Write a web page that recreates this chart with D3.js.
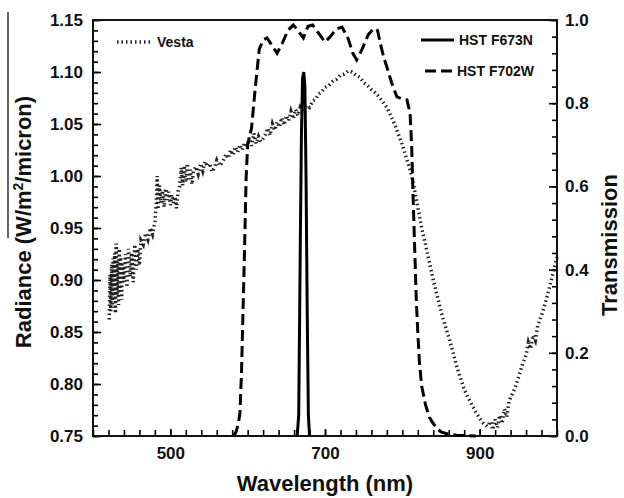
<!DOCTYPE html>
<html>
<head>
<meta charset="utf-8">
<script src="https://cdn.jsdelivr.net/npm/d3@7"></script>
<style>
  body { margin: 0; background: #fff; }
  svg text { font-family: "Liberation Sans", Arial, sans-serif; font-weight: bold; fill: #111; }
  .axis path { display: none; }
  .axis line { stroke: #000; stroke-width: 1.6px; }
  .axis text { font-size: 17px; }
</style>
</head>
<body>
<div id="chart"></div>
<script>
'use strict';

// Vesta radiance spectrum [wavelength nm, W/m2/micron]
var vesta = [
  [421,0.862],[422,0.905],[423,0.870],[424,0.915],[425,0.873],[426,0.921],[427,0.880],[428,0.926],
  [429,0.868],[430,0.935],[431,0.885],[432,0.918],[433,0.876],[434,0.930],[435,0.889],[436,0.922],
  [437,0.881],[438,0.915],[440,0.898],[442,0.925],[444,0.893],[446,0.930],[448,0.903],[450,0.926],
  [452,0.898],[454,0.934],[456,0.910],[458,0.930],[460,0.914],[462,0.938],[465,0.934],[468,0.945],
  [471,0.939],[474,0.950],[477,0.944],[480,0.956],[482,0.975],[483,1.000],[484,0.968],[486,0.991],
  [488,0.974],[490,0.986],[492,0.970],[494,0.988],[496,0.977],[498,0.985],[500,0.972],[502,0.982],
  [504,0.974],[506,0.980],[508,0.969],[510,0.985],[512,0.990],[514,1.008],[516,0.991],[518,1.010],
  [520,0.994],[522,1.012],[524,0.997],[526,1.006],[528,0.992],[530,1.005],[533,1.009],[536,1.002],
  [539,1.012],[542,1.005],[545,1.014],[548,1.009],[551,1.012],[554,1.004],[557,1.008],[560,1.015],
  [563,1.010],[566,1.012],[569,1.016],[572,1.021],[575,1.017],[578,1.025],[581,1.020],[584,1.028],
  [587,1.023],[590,1.030],[593,1.025],[596,1.032],[599,1.027],[602,1.037],[605,1.029],[608,1.041],
  [611,1.031],[614,1.038],[617,1.033],[620,1.036],[623,1.040],[626,1.046],[629,1.039],[632,1.050],
  [635,1.044],[638,1.052],[641,1.047],[644,1.056],[647,1.049],[650,1.058],[653,1.053],[656,1.062],
  [659,1.055],[662,1.064],[665,1.058],[668,1.066],[672,1.061],[676,1.068],[680,1.066],[684,1.072],
  [688,1.074],[692,1.079],[696,1.081],[700,1.085],[705,1.087],[710,1.091],[715,1.093],[720,1.097],
  [725,1.098],[730,1.101],[735,1.100],[740,1.097],[745,1.095],[750,1.090],[755,1.087],[760,1.083],
  [765,1.080],[770,1.076],[775,1.071],[780,1.066],[785,1.058],[790,1.050],[795,1.040],[800,1.030],
  [805,1.018],[810,1.006],[815,0.990],[820,0.970],[825,0.950],[830,0.934],[835,0.917],[840,0.900],
  [845,0.885],[850,0.870],[855,0.857],[860,0.845],[865,0.832],[870,0.818],[875,0.806],[880,0.795],
  [885,0.787],[890,0.780],[895,0.773],[900,0.767],[905,0.762],[910,0.759],[914,0.764],[917,0.756],
  [920,0.766],[923,0.758],[926,0.770],[929,0.762],[932,0.776],[935,0.768],[938,0.784],[942,0.790],
  [946,0.797],[950,0.806],[955,0.818],[960,0.828],[963,0.840],[966,0.834],[969,0.847],[972,0.842],
  [975,0.856],[980,0.866],[985,0.878],[990,0.892],[995,0.907],[1000,0.922]
];

// HST F702W transmission [nm, T]
var f702w = [
  [582,0.0],[585,0.01],[588,0.03],[590,0.055],[592,0.15],[594,0.30],[596,0.45],[598,0.62],
  [600,0.70],[605,0.74],[610,0.84],[615,0.93],[620,0.952],[625,0.957],[631,0.94],[638,0.92],
  [645,0.945],[652,0.975],[659,0.988],[665,0.975],[672,0.957],[678,0.985],[684,0.988],[691,0.97],
  [700,0.947],[707,0.96],[714,0.978],[722,0.983],[730,0.955],[736,0.92],[741,0.904],[748,0.93],
  [756,0.965],[763,0.98],[768,0.975],[772,0.94],[776,0.91],[780,0.887],[786,0.85],[793,0.815],
  [800,0.81],[806,0.808],[810,0.776],[812,0.70],[814,0.57],[816,0.45],[818,0.33],[820,0.25],
  [822,0.18],[825,0.12],[830,0.075],[835,0.045],[840,0.03],[845,0.018],[850,0.01],[860,0.004],
  [870,0.002],[895,0.0]
];

// HST F673N transmission [nm, T]
var f673n = [
  [664,0.0],[666,0.05],[668,0.45],[669.5,0.72],[671,0.86],[672.5,0.875],[674,0.84],
  [675.5,0.62],[677,0.30],[678.5,0.05],[680,0.0]
];

var xLabelTicks = [500, 700, 900];
var yLeftLabelTicks = [0.75, 0.80, 0.85, 0.90, 0.95, 1.00, 1.05, 1.10, 1.15];
var yRightLabelTicks = [0.0, 0.2, 0.4, 0.6, 0.8, 1.0];

var baseWidth = 624,
    baseHeight = 498,
    margin = { top: 20, right: 67, bottom: 62, left: 93 };

var width = baseWidth - margin.left - margin.right,
    height = baseHeight - margin.top - margin.bottom;

var x = d3.scaleLinear().domain( [ 400, 1000 ] ).range( [ 0, width ] );
var yL = d3.scaleLinear().domain( [ 0.75, 1.15 ] ).range( [ height, 0 ] );
var yR = d3.scaleLinear().domain( [ 0, 1 ] ).range( [ height, 0 ] );

var svg = d3.select( '#chart' )
  .append( 'svg' )
    .attr( 'width', baseWidth )
    .attr( 'height', baseHeight );

var g = svg.append( 'g' )
    .attr( 'transform', 'translate(' + margin.left + ',' + margin.top + ')' );

// minor ticks (no labels), all pointing inward
g.append( 'g' ).classed( 'axis', true )
  .attr( 'transform', 'translate(0,' + height + ')' )
  .call( d3.axisBottom( x ).tickValues( d3.range( 400, 1001, 20 ) ).tickSize( -6 ).tickFormat( '' ) );
g.append( 'g' ).classed( 'axis', true )
  .call( d3.axisLeft( yL ).tickValues( d3.range( 75, 116, 1 ).map( function( d ) { return d / 100; } ) )
    .tickSize( -5 ).tickFormat( '' ) );
g.append( 'g' ).classed( 'axis', true )
  .attr( 'transform', 'translate(' + width + ',0)' )
  .call( d3.axisRight( yR ).tickValues( d3.range( 0, 26, 1 ).map( function( d ) { return d * 0.04; } ) )
    .tickSize( -5 ).tickFormat( '' ) );

// labelled axes
g.append( 'g' ).classed( 'axis axis__x', true )
  .attr( 'transform', 'translate(0,' + height + ')' )
  .call( d3.axisBottom( x ).tickValues( xLabelTicks ).tickSize( -7 ).tickPadding( 10 ).tickFormat( d3.format( 'd' ) ) );
g.append( 'g' ).classed( 'axis', true )
  .call( d3.axisLeft( yL ).tickValues( yLeftLabelTicks ).tickSize( -8 ).tickPadding( 10 ).tickFormat( d3.format( '.2f' ) ) );
g.append( 'g' ).classed( 'axis', true )
  .attr( 'transform', 'translate(' + width + ',0)' )
  .call( d3.axisRight( yR ).tickValues( yRightLabelTicks ).tickSize( -8 ).tickPadding( 8 ).tickFormat( d3.format( '.1f' ) ) );

g.selectAll( '.axis text' ).attr( 'dy', null )
  .attr( 'dominant-baseline', 'central' );
g.selectAll( '.axis__x text' )
  .attr( 'dominant-baseline', null ).attr( 'y', 23 );

// frame
g.append( 'rect' )
  .attr( 'width', width )
  .attr( 'height', height )
  .attr( 'fill', 'none' )
  .attr( 'stroke', '#111' )
  .attr( 'stroke-width', 2 );

var lineL = d3.line()
  .x( function( d ) { return x( d[0] ); } )
  .y( function( d ) { return yL( d[1] ); } );
var lineR = d3.line()
  .x( function( d ) { return x( d[0] ); } )
  .y( function( d ) { return yR( d[1] ); } );

var styles = {
  vesta: { stroke: '#222', width: 3.5, dash: '1.5,3' },
  f673n: { stroke: '#000', width: 3, dash: null },
  f702w: { stroke: '#000', width: 3, dash: '11,5' }
};

g.append( 'path' )
  .attr( 'd', lineL( vesta ) )
  .attr( 'fill', 'none' )
  .attr( 'stroke', styles.vesta.stroke )
  .attr( 'stroke-width', styles.vesta.width )
  .attr( 'stroke-dasharray', styles.vesta.dash );

g.append( 'path' )
  .attr( 'd', lineR( f702w ) )
  .attr( 'fill', 'none' )
  .attr( 'stroke', styles.f702w.stroke )
  .attr( 'stroke-width', styles.f702w.width )
  .attr( 'stroke-dasharray', styles.f702w.dash );

g.append( 'path' )
  .attr( 'd', lineR( f673n ) )
  .attr( 'fill', 'none' )
  .attr( 'stroke', styles.f673n.stroke )
  .attr( 'stroke-width', styles.f673n.width )
  .attr( 'stroke-linejoin', 'miter' );

// legend
var legend = [
  { key: 'vesta', label: 'Vesta', x1: 24, x2: 59, y: 22 },
  { key: 'f673n', label: 'HST F673N', x1: 328, x2: 361, y: 20 },
  { key: 'f702w', label: 'HST F702W', x1: 332, x2: 359, y: 51 }
];
legend.forEach( function( l ) {
  g.append( 'line' )
    .attr( 'x1', l.x1 ).attr( 'x2', l.x2 )
    .attr( 'y1', l.y ).attr( 'y2', l.y )
    .attr( 'stroke', styles[l.key].stroke )
    .attr( 'stroke-width', styles[l.key].width )
    .attr( 'stroke-dasharray', styles[l.key].dash );
  g.append( 'text' )
    .attr( 'x', l.x2 + 5 )
    .attr( 'y', l.y + 5 )
    .style( 'font-size', '14px' )
    .text( l.label );
} );

// axis titles
svg.append( 'text' )
  .attr( 'text-anchor', 'middle' )
  .attr( 'x', 325 )
  .attr( 'y', 491 )
  .style( 'font-size', '22px' )
  .text( 'Wavelength (nm)' );

var yTitle = svg.append( 'text' )
  .attr( 'text-anchor', 'middle' )
  .attr( 'transform', 'translate(31,222) rotate(-90)' )
  .style( 'font-size', '22px' );
yTitle.append( 'tspan' ).text( 'Radiance (W/m' );
yTitle.append( 'tspan' ).attr( 'dy', -8 ).style( 'font-size', '14px' ).text( '2' );
yTitle.append( 'tspan' ).attr( 'dy', 8 ).text( '/micron)' );

svg.append( 'line' )
  .attr( 'x1', 8 ).attr( 'x2', 8 )
  .attr( 'y1', 12 ).attr( 'y2', 238 )
  .attr( 'stroke', '#333' )
  .attr( 'stroke-width', 1.5 );

svg.append( 'text' )
  .attr( 'text-anchor', 'middle' )
  .attr( 'transform', 'translate(617,245) rotate(-90)' )
  .style( 'font-size', '22px' )
  .text( 'Transmission' );
</script>
</body>
</html>
